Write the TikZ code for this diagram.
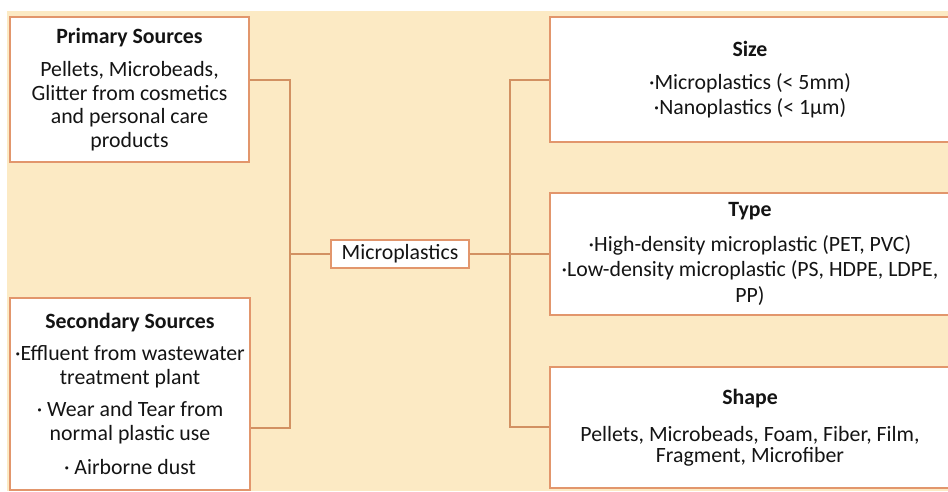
\documentclass[tikz,border=0pt]{standalone}
\usepackage{fontspec}
\setmainfont{Carlito}
\definecolor{bgc}{RGB}{252,234,196}
\definecolor{edgec}{RGB}{226,150,108}
\definecolor{wirec}{RGB}{210,145,98}
\definecolor{txt}{RGB}{20,20,20}
\begin{document}
\begin{tikzpicture}[x=1pt,y=-1pt,
  box/.style={draw=edgec, line width=1.5pt, fill=white, align=center, inner sep=0pt,
    font=\fontsize{21.8}{23.5}\selectfont, text=txt},
  wire/.style={draw=wirec, line width=1.5pt}]
\useasboundingbox (0,0) rectangle (948,491);
\clip (0,0) rectangle (948,491);
\fill[bgc] (7,11) rectangle (948,491);

\node[box, minimum width=239pt, minimum height=145pt] (prim) at (129.5,89.5)
  {\textbf{Primary Sources}\\[10pt] Pellets, Microbeads,\\ Glitter from cosmetics\\ and personal care\\ products};
\node[box, minimum width=240pt, minimum height=192pt] (sec) at (130,394)
  {\textbf{Secondary Sources}\\[9pt] ·Effluent from wastewater\\ treatment plant\\[9pt] · Wear and Tear from\\ normal plastic use\\[11pt] · Airborne dust};
\node[box, minimum width=138pt, minimum height=28pt] (micro) at (400,254) {Microplastics};
\node[box, minimum width=400pt, minimum height=125pt] (size) at (750,79.5)
  {\textbf{Size}\\[10pt] ·Microplastics (< 5mm)\\[1pt] ·Nanoplastics (< 1µm)};
\node[box, minimum width=400pt, minimum height=122pt] (type) at (750,254)
  {\textbf{Type}\\[11pt] ·High-density microplastic (PET, PVC)\\[2pt] ·Low-density microplastic (PS, HDPE, LDPE,\\[2pt] PP)};
\node[box, minimum width=400pt, minimum height=121pt] (shape) at (750,427.5)
  {\textbf{Shape}\\[13pt] Pellets, Microbeads, Foam, Fiber, Film,\\[-2.5pt] Fragment, Microfiber};

\coordinate (j1) at (290,80);
\coordinate (j2) at (290,428);
\coordinate (lm) at (290,254);
\coordinate (r1) at (510,80);
\coordinate (r2) at (510,427);

\draw[wire] (prim.east|-j1) -- (j1) -- (j2) -- (sec.east|-j2);
\draw[wire] (lm) -- (micro.west);
\draw[wire] (micro.east) -- (type.west);
\draw[wire] (size.west|-r1) -- (r1) -- (r2) -- (shape.west|-r2);
\end{tikzpicture}
\end{document}
